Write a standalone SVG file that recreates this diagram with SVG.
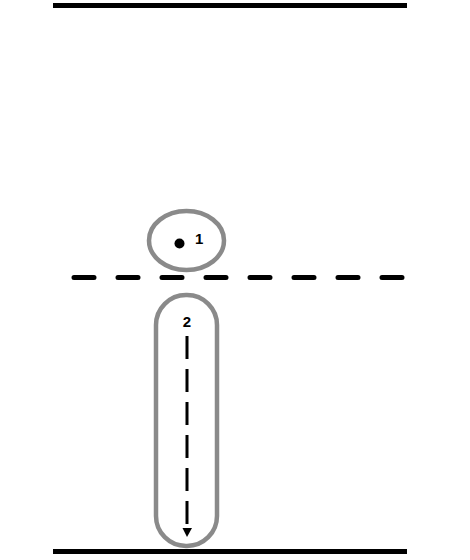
<svg xmlns="http://www.w3.org/2000/svg" width="470" height="560" viewBox="0 0 470 560">
<style>
.wall{stroke:#000;stroke-width:5;fill:none}
.node{stroke:#8a8a8a;stroke-width:4.5;fill:none}
.lbl{font-family:"Liberation Sans",Arial,sans-serif;font-weight:bold;font-size:15px;fill:#000}
</style>
<rect width="470" height="560" fill="#fff"/>
<line class="wall" x1="53" y1="5.5" x2="407" y2="5.5"/>
<line class="wall" x1="53" y1="551.5" x2="407" y2="551.5"/>
<line x1="74" y1="277.5" x2="406" y2="277.5" stroke="#000" stroke-width="5" stroke-linecap="round" stroke-dasharray="20 24"/>
<g id="node1">
<ellipse class="node" cx="186.5" cy="240.5" rx="37.5" ry="29.5"/>
<circle cx="179.5" cy="243.5" r="5" fill="#000"/>
<text class="lbl" x="195" y="244">1</text>
</g>
<g id="node2">
<rect class="node" x="156" y="295" width="61" height="251" rx="30" ry="30"/>
<text class="lbl" x="187" y="327" text-anchor="middle">2</text>
</g>
<g id="connectors">
<path d="M187,336 V528" stroke="#000" stroke-width="3" fill="none" stroke-dasharray="23 10"/>
<path d="M182.5,528 L192,528 L187,537 Z" fill="#000"/>
</g>
</svg>
